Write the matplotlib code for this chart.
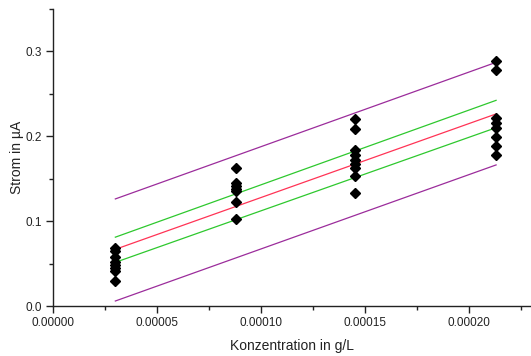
import matplotlib
matplotlib.use("Agg")
import matplotlib.pyplot as plt
from matplotlib.ticker import MultipleLocator, FormatStrFormatter

plt.rcParams['font.family'] = ['Liberation Sans', 'DejaVu Sans']

# Measured current per concentration level
conc_levels = [3.0e-5, 8.8e-5, 1.452e-4, 2.132e-4]
current_groups = [
    [0.068, 0.065, 0.058, 0.052, 0.048, 0.045, 0.041, 0.030],
    [0.162, 0.145, 0.141, 0.138, 0.135, 0.122, 0.102],
    [0.220, 0.208, 0.184, 0.178, 0.172, 0.167, 0.162, 0.153, 0.133],
    [0.288, 0.278, 0.221, 0.215, 0.209, 0.199, 0.188, 0.178],
]

# Calibration line and its bands, evaluated at the ends of the range
line_x = [3.0e-5, 2.132e-4]
fit_y = [0.0667, 0.226]
conf_upper = [0.081, 0.242]
conf_lower = [0.0514, 0.2098]
pred_upper = [0.126, 0.2867]
pred_lower = [0.0059, 0.166]

fig = plt.figure(figsize=(5.31, 3.56), dpi=100)
ax = fig.add_axes([0.0998, 0.1404, 0.9002, 0.8356])

ax.plot(line_x, pred_upper, color='#9b2c9b', lw=0.9)
ax.plot(line_x, pred_lower, color='#9b2c9b', lw=0.9)
ax.plot(line_x, conf_upper, color='#2ec82e', lw=0.9)
ax.plot(line_x, conf_lower, color='#2ec82e', lw=0.9)
ax.plot(line_x, fit_y, color='#ff3355', lw=0.9)

for xv, ys in zip(conc_levels, current_groups):
    ax.plot([xv] * len(ys), ys, linestyle='none', marker='D',
            markersize=5.0, color='black')

ax.set_xlim(0, 0.00023)
ax.set_ylim(0, 0.35)
ax.xaxis.set_major_locator(MultipleLocator(0.00005))
ax.xaxis.set_minor_locator(MultipleLocator(0.000025))
ax.yaxis.set_major_locator(MultipleLocator(0.1))
ax.yaxis.set_minor_locator(MultipleLocator(0.05))
ax.xaxis.set_major_formatter(FormatStrFormatter('%.5f'))
ax.yaxis.set_major_formatter(FormatStrFormatter('%.1f'))

for side in ('top', 'right'):
    ax.spines[side].set_visible(False)
for side in ('left', 'bottom'):
    ax.spines[side].set_linewidth(1.0)
    ax.spines[side].set_color('#222222')

ax.tick_params(which='major', direction='out', length=5, width=1.0,
               labelsize=8.5, colors='#222222', pad=3)
ax.tick_params(which='minor', direction='out', length=3, width=1.0,
               colors='#222222')

ax.set_xlabel('Konzentration in g/L', fontsize=10, color='#222222', labelpad=7)
ax.set_ylabel('Strom in µA', fontsize=10, color='#222222', labelpad=1)

fig.savefig('out.png', dpi=100)
